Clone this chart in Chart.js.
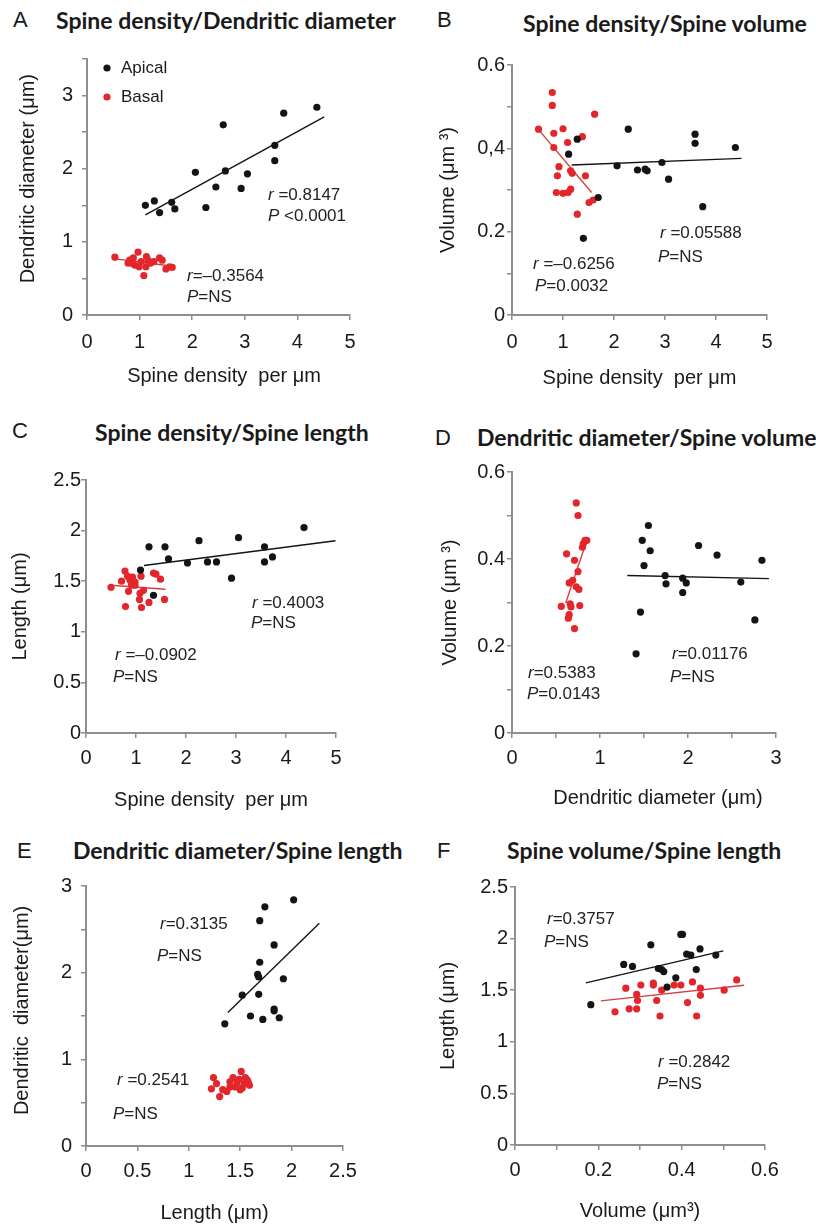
<!DOCTYPE html>
<html>
<head>
<meta charset="utf-8">
<script src="https://cdn.jsdelivr.net/npm/chart.js@4.4.0/dist/chart.umd.min.js"></script>
<style>
  body { margin: 0; width: 816px; height: 1224px; position: relative; background: #fff; overflow: hidden;
         font-family: "Liberation Sans", Arial, sans-serif; color: #1a1a1a; }
  canvas { position: absolute; }
  .letter { position: absolute; font-size: 22px; line-height: 1; }
  .title { position: absolute; font-family: Lato, sans-serif; font-weight: 700; font-size: 23px; line-height: 1; white-space: nowrap; }
  .note { position: absolute; font-size: 17px; line-height: 1; white-space: nowrap; transform: translateY(-50%); color: #222; }
</style>
</head>
<body>
<div class="letter" style="left:13px;top:9px">A</div>
<div class="title" style="left:56px;top:9px">Spine density/Dendritic diameter</div>
<div class="letter" style="left:437px;top:9px">B</div>
<div class="title" style="left:523px;top:12px">Spine density/Spine volume</div>
<div class="letter" style="left:12px;top:420px">C</div>
<div class="title" style="left:95px;top:421px">Spine density/Spine length</div>
<div class="letter" style="left:435px;top:427px">D</div>
<div class="title" style="left:477px;top:426px">Dendritic diameter/Spine volume</div>
<div class="letter" style="left:17px;top:840px">E</div>
<div class="title" style="left:73px;top:839px">Dendritic diameter/Spine length</div>
<div class="letter" style="left:437px;top:840px">F</div>
<div class="title" style="left:507px;top:839px">Spine volume/Spine length</div>

<canvas id="chartA" width="400" height="400" style="left:0;top:0"></canvas>
<canvas id="chartB" width="411" height="400" style="left:405px;top:0"></canvas>
<canvas id="chartC" width="400" height="420" style="left:0;top:400px"></canvas>
<canvas id="chartD" width="411" height="420" style="left:405px;top:400px"></canvas>
<canvas id="chartE" width="400" height="430" style="left:0;top:800px"></canvas>
<canvas id="chartF" width="411" height="430" style="left:405px;top:800px"></canvas>

<div class="note" style="left:268px;top:194px"><i>r</i> =0.8147</div>
<div class="note" style="left:268px;top:215px"><i>P</i> &lt;0.0001</div>
<div class="note" style="left:187px;top:275px"><i>r</i>=–0.3564</div>
<div class="note" style="left:187px;top:296px"><i>P</i>=NS</div>

<div class="note" style="left:660px;top:232px"><i>r</i> =0.05588</div>
<div class="note" style="left:658px;top:256px"><i>P</i>=NS</div>
<div class="note" style="left:533px;top:263px"><i>r</i> =–0.6256</div>
<div class="note" style="left:535px;top:285px"><i>P</i>=0.0032</div>

<div class="note" style="left:252px;top:602px"><i>r</i> =0.4003</div>
<div class="note" style="left:251px;top:622px"><i>P</i>=NS</div>
<div class="note" style="left:115px;top:654px"><i>r</i> =–0.0902</div>
<div class="note" style="left:113px;top:676px"><i>P</i>=NS</div>

<div class="note" style="left:528px;top:672px"><i>r</i>=0.5383</div>
<div class="note" style="left:527px;top:693px"><i>P</i>=0.0143</div>
<div class="note" style="left:672px;top:653px"><i>r</i>=0.01176</div>
<div class="note" style="left:670px;top:676px"><i>P</i>=NS</div>

<div class="note" style="left:160px;top:923px"><i>r</i>=0.3135</div>
<div class="note" style="left:157px;top:955px"><i>P</i>=NS</div>
<div class="note" style="left:117px;top:1079px"><i>r</i> =0.2541</div>
<div class="note" style="left:113px;top:1113px"><i>P</i>=NS</div>

<div class="note" style="left:547px;top:918px"><i>r</i>=0.3757</div>
<div class="note" style="left:544px;top:941px"><i>P</i>=NS</div>
<div class="note" style="left:658px;top:1061px"><i>r</i> =0.2842</div>
<div class="note" style="left:657px;top:1083px"><i>P</i>=NS</div>

<script>
// A: spine density vs dendritic diameter
const densA_apical = [1.11, 1.28, 1.38, 1.61, 1.67, 2.06, 2.26, 2.45, 2.59, 2.63, 2.93, 3.05, 3.57, 3.57, 3.74, 4.37];
const diamA_apical = [1.50, 1.56, 1.40, 1.54, 1.45, 1.95, 1.47, 1.75, 2.60, 1.97, 1.73, 1.93, 2.32, 2.11, 2.76, 2.84];
const densA_basal = [0.53, 0.78, 0.81, 0.84, 0.88, 0.91, 0.97, 0.99, 1.03, 1.08, 1.12, 1.13, 1.16, 1.21, 1.27, 1.38, 1.43, 1.50, 1.57, 1.62];
const diamA_basal = [0.79, 0.71, 0.75, 0.71, 0.78, 0.68, 0.86, 0.66, 0.73, 0.54, 0.66, 0.80, 0.75, 0.71, 0.73, 0.78, 0.75, 0.63, 0.66, 0.65];
const fitA_apical_x = [1.11, 4.51], fitA_apical_y = [1.37, 2.71];
const fitA_basal_x = [0.50, 1.60], fitA_basal_y = [0.77, 0.67];

// B: spine density vs spine volume
const densB_apical = [1.11, 1.28, 1.40, 1.69, 2.06, 2.28, 2.46, 2.61, 2.65, 2.94, 3.07, 3.59, 3.59, 3.74, 4.38];
const volB_apical = [0.386, 0.422, 0.184, 0.282, 0.358, 0.446, 0.348, 0.350, 0.346, 0.366, 0.326, 0.434, 0.412, 0.260, 0.402];
const densB_basal = [0.52, 0.79, 0.79, 0.82, 0.82, 0.92, 0.89, 0.87, 1.00, 1.00, 1.09, 1.10, 1.15, 1.15, 1.18, 1.28, 1.38, 1.44, 1.51, 1.62, 1.59];
const volB_basal = [0.446, 0.534, 0.503, 0.436, 0.402, 0.356, 0.334, 0.294, 0.447, 0.292, 0.414, 0.294, 0.302, 0.346, 0.340, 0.242, 0.428, 0.334, 0.270, 0.482, 0.276];
const fitB_apical_x = [1.17, 4.50], fitB_apical_y = [0.360, 0.376];
const fitB_basal_x = [0.50, 1.56], fitB_basal_y = [0.448, 0.294];

// C: spine density vs spine length
const densC_apical = [1.09, 1.26, 1.35, 1.58, 1.65, 2.03, 2.26, 2.43, 2.61, 2.91, 3.05, 3.57, 3.57, 3.73, 4.36];
const lenC_apical = [1.61, 1.84, 1.36, 1.84, 1.72, 1.68, 1.90, 1.69, 1.69, 1.53, 1.93, 1.84, 1.69, 1.74, 2.03];
const densC_basal = [0.50, 0.71, 0.78, 0.79, 0.83, 0.85, 0.88, 0.91, 0.93, 0.98, 0.98, 1.07, 1.08, 1.10, 1.11, 1.15, 1.26, 1.35, 1.40, 1.49, 1.57];
const lenC_basal = [1.44, 1.50, 1.60, 1.25, 1.55, 1.40, 1.51, 1.46, 1.54, 1.49, 1.46, 1.32, 1.38, 1.55, 1.24, 1.41, 1.29, 1.58, 1.57, 1.52, 1.32];
const fitC_apical_x = [1.16, 4.99], fitC_apical_y = [1.655, 1.90];
const fitC_basal_x = [0.50, 1.59], fitC_basal_y = [1.46, 1.42];

// D: dendritic diameter vs spine volume
const diamD_apical = [1.41, 1.46, 1.48, 1.50, 1.55, 1.57, 1.74, 1.75, 1.94, 1.94, 1.98, 2.12, 2.33, 2.60, 2.76, 2.84];
const volD_apical = [0.182, 0.278, 0.443, 0.385, 0.477, 0.419, 0.362, 0.343, 0.356, 0.323, 0.345, 0.431, 0.409, 0.347, 0.260, 0.397];
const diamD_basal = [0.56, 0.62, 0.64, 0.65, 0.65, 0.66, 0.67, 0.69, 0.71, 0.71, 0.73, 0.73, 0.75, 0.75, 0.76, 0.77, 0.80, 0.81, 0.83, 0.85];
const volD_basal = [0.291, 0.412, 0.264, 0.272, 0.345, 0.297, 0.290, 0.351, 0.397, 0.240, 0.529, 0.336, 0.500, 0.371, 0.330, 0.293, 0.427, 0.435, 0.443, 0.443];
const fitD_apical_x = [1.31, 2.92], fitD_apical_y = [0.362, 0.355];
const fitD_basal_x = [0.61, 0.845], fitD_basal_y = [0.299, 0.439];

// E: spine length vs dendritic diameter
const lenE_apical = [1.35, 1.52, 1.60, 1.67, 1.68, 1.68, 1.69, 1.69, 1.72, 1.74, 1.83, 1.83, 1.83, 1.88, 1.92, 2.02];
const diamE_apical = [1.41, 1.74, 1.50, 1.98, 1.95, 1.75, 2.12, 2.60, 1.46, 2.76, 2.32, 1.58, 1.56, 1.48, 1.93, 2.84];
const lenE_basal = [1.22, 1.24, 1.27, 1.30, 1.33, 1.37, 1.40, 1.40, 1.43, 1.45, 1.47, 1.49, 1.50, 1.51, 1.52, 1.54, 1.55, 1.57, 1.58, 1.59];
const diamE_basal = [0.66, 0.79, 0.72, 0.57, 0.65, 0.63, 0.74, 0.68, 0.79, 0.68, 0.73, 0.77, 0.65, 0.86, 0.67, 0.72, 0.79, 0.76, 0.73, 0.70];
const fitE_apical_x = [1.38, 2.27], fitE_apical_y = [1.54, 2.57];

// F: spine volume vs spine length
const volF_apical = [0.182, 0.261, 0.282, 0.326, 0.344, 0.352, 0.357, 0.365, 0.386, 0.398, 0.402, 0.412, 0.422, 0.435, 0.444, 0.482];
const lenF_apical = [1.36, 1.75, 1.73, 1.94, 1.71, 1.70, 1.68, 1.53, 1.62, 2.04, 2.04, 1.85, 1.84, 1.70, 1.90, 1.84];
const volF_basal = [0.240, 0.266, 0.274, 0.292, 0.292, 0.294, 0.302, 0.332, 0.332, 0.340, 0.348, 0.352, 0.382, 0.398, 0.414, 0.426, 0.436, 0.445, 0.445, 0.502, 0.532];
const lenF_basal = [1.29, 1.52, 1.32, 1.32, 1.46, 1.40, 1.55, 1.57, 1.55, 1.40, 1.25, 1.50, 1.55, 1.55, 1.38, 1.58, 1.25, 1.52, 1.45, 1.50, 1.60];
const fitF_apical_x = [0.170, 0.500], fitF_apical_y = [1.571, 1.881];
const fitF_basal_x = [0.206, 0.550], fitF_basal_y = [1.397, 1.548];

// tick labels
const densityTicks = ['0', '1', '2', '3', '4', '5'];
const diamTicksA = ['0', '', '1', '', '2', '', '3', ''];
const volTicksB = ['0', '', '0.2', '', '0,4', '', '0.6'];
const lengthTicks = ['0', '0.5', '1', '1.5', '2', '2.5'];
const diamTicksD = ['0', '', '1', '', '2', '', '3'];
const volTicksD = ['0', '', '0.2', '', '0.4', '', '0.6'];
const lengthTicksE = ['0', '0.5', '1', '1.5', '2', '2.5'];
const diamTicksE = ['0', '', '1', '', '2', '', '3'];
const volTicksF = ['0', '', '0.2', '', '0.4', '', '0.6'];

const BLACK = '#141414';
const RED = '#e3262c';
const RED_LINE = '#d6403f';
const AXIS = '#8e8e8e';
const FONT = '"Liberation Sans", Arial, sans-serif';

function pts(xs, ys) {
    return xs.map((x, i) => ({ x: x, y: ys[i] }));
}

function dots(label, xs, ys, color) {
    return { label: label, data: pts(xs, ys), backgroundColor: color, borderColor: color,
             pointRadius: 3.6, pointHoverRadius: 3.6, borderWidth: 0 };
}

function fit(xs, ys, color) {
    return { data: pts(xs, ys), showLine: true, borderColor: color, borderWidth: 1.4,
             pointRadius: 0, fill: false };
}

function axis(min, max, step, labels, title, tickPad, size, horizontal) {
    return {
        type: 'linear', min: min, max: max,
        grid: { drawOnChartArea: false, drawTicks: true, tickLength: 5, color: AXIS, lineWidth: 1.5 },
        border: { display: true, color: AXIS, width: 2 },
        ticks: {
            stepSize: step, autoSkip: false, maxRotation: 0, padding: tickPad, color: '#1a1a1a',
            font: { family: FONT, size: 20 },
            callback: (v, i) => labels[i]
        },
        title: { display: true, text: title, color: '#1a1a1a', padding: 0,
                 font: { family: FONT, size: 20 } },
        afterFit: horizontal ? (s => { s.height = size; }) : (s => { s.width = size; })
    };
}

// draws the Apical/Basal key inside the plot area
const insideLegend = {
    id: 'insideLegend',
    afterDraw(chart, args, opts) {
        if (!opts.show) return;
        const { ctx, chartArea } = chart;
        ctx.save();
        ctx.font = '17px ' + FONT;
        ctx.textBaseline = 'middle';
        chart.data.datasets.filter(d => !d.showLine).forEach((d, i) => {
            const y = chartArea.top + opts.top + i * opts.gap;
            ctx.fillStyle = d.backgroundColor;
            ctx.beginPath();
            ctx.arc(chartArea.left + opts.dotX, y, 3.6, 0, Math.PI * 2);
            ctx.fill();
            ctx.fillStyle = '#1a1a1a';
            ctx.fillText(d.label, chartArea.left + opts.textX, y);
        });
        ctx.restore();
    }
};

function makeChart(id, datasets, xAxis, yAxis, pad, legend) {
    return new Chart(document.getElementById(id).getContext('2d'), {
        type: 'scatter',
        data: { datasets: datasets },
        options: {
            responsive: false,
            animation: false,
            layout: { padding: { left: pad[0], top: pad[1], right: pad[2], bottom: pad[3] } },
            plugins: {
                legend: { display: false },
                tooltip: { enabled: false },
                insideLegend: legend || { show: false }
            },
            scales: { x: xAxis, y: yAxis }
        },
        plugins: [insideLegend]
    });
}

makeChart('chartA', [
    dots('Apical', densA_apical, diamA_apical, BLACK),
    dots('Basal', densA_basal, diamA_basal, RED),
    fit(fitA_apical_x, fitA_apical_y, BLACK),
    fit(fitA_basal_x, fitA_basal_y, RED_LINE)
], axis(0, 5, 1, densityTicks, '  Spine density  per μm', 10, 73, true),
   axis(0, 3.5, 0.5, diamTicksA, '   Dendritic diameter (μm)', 9, 71, false),
   [16, 59, 50, 12], { show: true, dotX: 20, textX: 34, top: 9, gap: 29 });

makeChart('chartB', [
    dots('Apical', densB_apical, volB_apical, BLACK),
    dots('Basal', densB_basal, volB_basal, RED),
    fit(fitB_apical_x, fitB_apical_y, BLACK),
    fit(fitB_basal_x, fitB_basal_y, RED_LINE)
], axis(0, 5, 1, densityTicks, 'Spine density  per μm', 10, 75, true),
   axis(0, 0.6, 0.1, volTicksB, 'Volume (μm ³)', 2, 76, false),
   [31, 65, 49, 10]);

makeChart('chartC', [
    dots('Apical', densC_apical, lenC_apical, BLACK),
    dots('Basal', densC_basal, lenC_basal, RED),
    fit(fitC_apical_x, fitC_apical_y, BLACK),
    fit(fitC_basal_x, fitC_basal_y, RED_LINE)
], axis(0, 5, 1, densityTicks, 'Spine density  per μm', 8, 79, true),
   axis(0, 2.5, 0.5, lengthTicks, 'Length (μm)', 0, 78, false),
   [8, 80, 64, 8]);

makeChart('chartD', [
    dots('Apical', diamD_apical, volD_apical, BLACK),
    dots('Basal', diamD_basal, volD_basal, RED),
    fit(fitD_apical_x, fitD_apical_y, BLACK),
    fit(fitD_basal_x, fitD_basal_y, RED_LINE)
], axis(0, 3, 0.5, diamTicksD, '     Dendritic diameter (μm)', 8, 77, true),
   axis(0, 0.6, 0.1, volTicksD, 'Volume (μm ³)', 2, 74, false),
   [33, 72, 40, 10]);

makeChart('chartE', [
    dots('Apical', lenE_apical, diamE_apical, BLACK),
    dots('Basal', lenE_basal, diamE_basal, RED),
    fit(fitE_apical_x, fitE_apical_y, BLACK)
], axis(0, 2.5, 0.5, lengthTicksE, 'Length (μm)', 8, 79, true),
   axis(0, 3, 0.5, diamTicksE, '  Dendritic  diameter(μm)', 9, 76, false),
   [10, 86, 57, 5]);

makeChart('chartF', [
    dots('Apical', volF_apical, lenF_apical, BLACK),
    dots('Basal', volF_basal, lenF_basal, RED),
    fit(fitF_apical_x, fitF_apical_y, BLACK),
    fit(fitF_basal_x, fitF_basal_y, RED_LINE)
], axis(0, 0.6, 0.1, volTicksF, 'Volume (μm³)', 8, 78, true),
   axis(0, 2.5, 0.5, lengthTicks, 'Length (μm)', 2, 79, false),
   [31, 87, 51, 7]);
</script>
</body>
</html>
